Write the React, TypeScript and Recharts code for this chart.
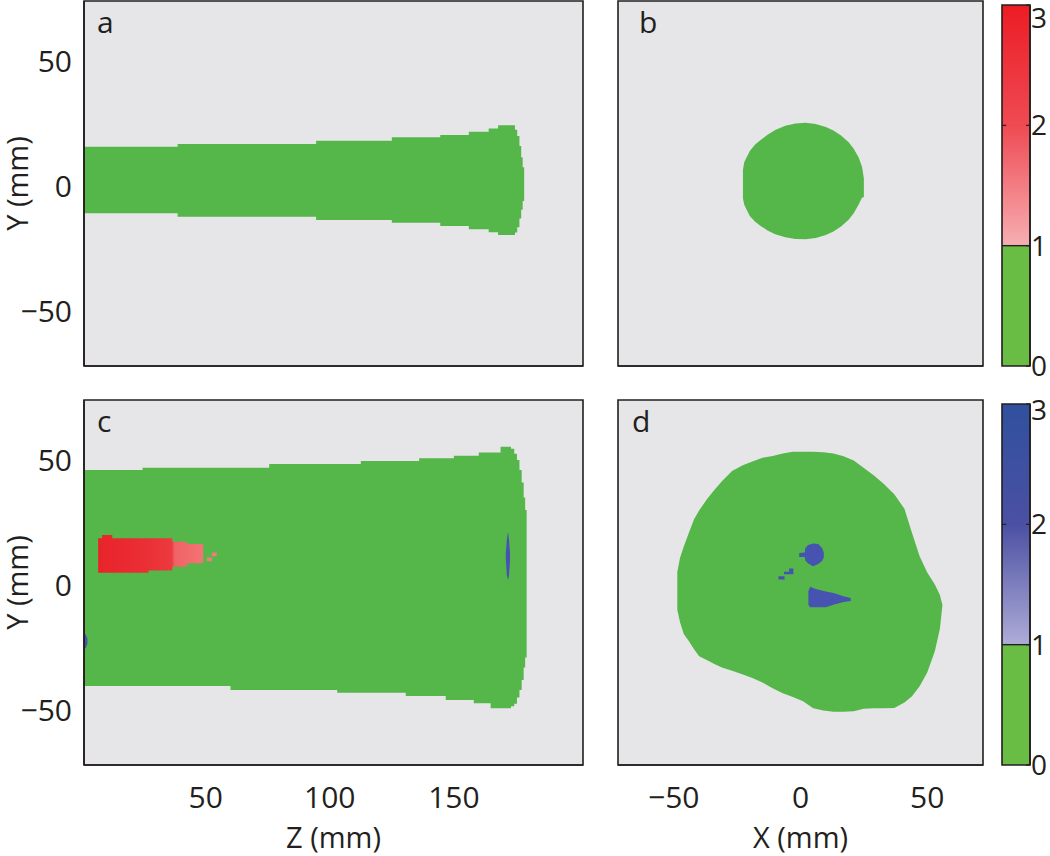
import React from 'react';
import { ComposedChart, Area, XAxis, YAxis, CartesianGrid, ReferenceLine, ReferenceArea } from 'recharts';

// ---- panel a: side view (Z vs Y), stepped outline, before ----
const aZ = [1, 38.7, 94.5, 125, 144.5, 156, 164, 167.8, 174.6, 175.5, 176.4, 177.1, 177.7, 178.3];
const aLo = [-10.9, -12.3, -13.6, -14.7, -16, -17.3, -18.5, -19.6, -18.6, -16.5, -13, -9.5, -6, -6];
const aHi = [15.7, 16.8, 18.1, 19.5, 20.4, 21.7, 23, 24.3, 22.5, 20, 16, 11.5, 7.5, 7.5];

// ---- panel b: cross section (X vs Y), before ----
const bX = [-22.7, -22.2, -21.5, -20, -18, -16, -13, -10, -6, -2, 2, 6, 10, 13, 16, 19, 21, 23, 24.3, 25];
const bLo = [-5, -7.5, -9, -12, -14.2, -15.8, -17.8, -19.3, -20.5, -21.2, -21.3, -20.8, -19.6, -18.2, -16.2, -13.5, -10.9, -7.3, -4.6, -4.5];
const bHi = [6.5, 9.5, 11, 14, 16.5, 18.2, 20.5, 22.4, 24.1, 25, 25.3, 24.8, 23.6, 22.2, 20.2, 17.5, 14.9, 11.3, 7.6, 3];

// ---- panel c: side view, after ----
const cZ = [1, 24.6, 60, 75.6, 103, 112.5, 130.6, 136, 146.7, 150, 158, 160, 164.8, 168.8, 172.2, 173, 174.3, 175.4, 176.4, 177.3, 178.1, 178.7, 179.3];
const cLo = [-40.4, -40.4, -42, -42, -43.1, -43.1, -44.4, -44.4, -46, -46, -47.3, -47.3, -49.3, -49.3, -49.3, -48.5, -47.5, -45, -42, -38, -33, -29, -29];
const cHi = [46, 46.9, 46.9, 48.4, 48.4, 49.6, 49.6, 50.7, 50.7, 51.7, 51.7, 53, 53, 55.3, 55.3, 54.5, 52.5, 50, 46, 41, 35, 30, 30];

const redZ = [6.7, 8.3, 12.4, 27, 36.6, 42.5, 49];
const redLo = [4.9, 4.9, 4.9, 5.8, 7.3, 8.7, 8.7];
const redHi = [18.7, 20, 18.7, 18.7, 17.3, 16.4, 16.4];
const redSpeckZ = [50.5, 52.5, 54.5];
const redSpeckLo = [9.5, 11.5, 11.5];
const redSpeckHi = [11, 13, 13];

const blueRimZ = [170.9, 171.3, 171.8, 172.2, 172.6];
const blueRimLo = [10.5, 4, 2, 4, 10];
const blueRimHi = [12.5, 18, 21.3, 18, 13];
const blueEdgeZ = [1, 1.8, 2.4];
const blueEdgeLo = [-26, -25, -23.5];
const blueEdgeHi = [-19, -20, -21.5];

// ---- panel d: cross section, after ----
const dX = [-48.6, -47.5, -46, -44, -42, -40, -37, -34, -31, -27, -23, -19, -15, -11, -7, -3, 1, 5, 9, 13, 17, 21, 25, 29, 33, 37, 41, 44, 47, 50, 53, 55, 56];
const dLo = [-10, -15, -19.7, -22.5, -25.7, -28.5, -30, -31.6, -33, -34.3, -35.7, -37.2, -39, -41.3, -43.3, -44.8, -46.5, -49.3, -50.2, -50.7, -50.7, -50.5, -49.5, -49.3, -49.3, -49.2, -47, -44.5, -40.5, -35, -26.5, -17.5, -8];
const dHi = [5.3, 11, 15.5, 21, 26.3, 29.8, 34.2, 38, 41.5, 45.6, 47.8, 49.4, 50.9, 51.6, 52.6, 53.3, 53.3, 53.3, 53.1, 52.6, 51.5, 49.8, 46.8, 43.8, 40.3, 36.3, 30.5, 20.8, 11.5, 5, 0.2, -4, -8];

const dBlob1X = [-0.5, 1.7, 1.9, 3, 5, 7, 8.5, 9.2];
const dBlob1Lo = [11.2, 11.2, 9.8, 8.6, 7.5, 8.4, 9.6, 11];
const dBlob1Hi = [12.8, 13, 14.8, 16, 16.6, 16.4, 14.8, 13];
const dBlob2X = [3.1, 3.8, 6, 10, 13, 17, 19.8];
const dBlob2Lo = [-7.9, -8.9, -8.9, -8.9, -7.9, -6.8, -6.4];
const dBlob2Hi = [-2.5, -0.7, -1.6, -2.6, -3.2, -4.5, -5.2];
const dSpeck1X = [-8.7, -6.3];
const dSpeck1Lo = [2.2, 2.2];
const dSpeck1Hi = [3.5, 3.5];
const dSpeck2X = [-6.5, -4.5, -2.8];
const dSpeck2Lo = [4.3, 4.3, 5];
const dSpeck2Hi = [5.3, 6.6, 6];

// ---- axes ----
const zDomain: [number, number] = [1, 202];
const xyDomain: [number, number] = [-72, 72];
const yDomain: [number, number] = [-72, 74];
const zTicks = [50, 100, 150];
const xTicks = [-50, 0, 50];
const yTicks = [-50, 0, 50];

// colorbar
const cbX = [0, 1];
const cbGreen = [0, 1];
const cbScale = [1, 3];
const cbTicks = [0, 1, 2, 3];

const GREEN = '#55b74a';
const CB_GREEN = '#69bd45';
const GRAY = '#e6e6e8';
const INK = '#231f20';
const BLUE = '#4653b0';
const FONT = 'Open Sans';
const PLOT_H = 365;

type Pt = { x: number; r: number[] };
const zip = (xs: number[], lo: number[], hi: number[]): Pt[] => xs.map((x, i) => ({ x, r: [lo[i], hi[i]] }));

interface Band { id: string; data: Pt[]; fill: string; curve: 'linear' | 'stepAfter' }

interface PanelProps {
  left: number;
  top: number;
  plotW: number;
  yAxisW: number;
  xAxisH: number;
  xDomain: [number, number];
  xTicks?: number[];
  yTicks?: number[];
  xLabel?: string;
  yLabel?: string;
  bands: Band[];
}

const minus = (v: number) => String(v).replace('-', '\u2212');
const tickText = { fill: INK, fontSize: 30, fontFamily: FONT };
const edge = { stroke: INK, strokeWidth: 1.6 };

function Panel(p: PanelProps) {
  const ml = p.yAxisW ? 0 : 2;
  const width = ml + p.yAxisW + p.plotW + 2;
  return (
    <div style={{ position: 'absolute', left: p.left, top: p.top }}>
      <ComposedChart width={width} height={1 + PLOT_H + p.xAxisH} margin={{ top: 1, right: 2, bottom: 0, left: ml }}>
        <defs>
          <linearGradient id="redFill" x1="0" y1="0" x2="1" y2="0">
            <stop offset="0%" stopColor="#e8242a" />
            <stop offset="45%" stopColor="#ea2f35" />
            <stop offset="70%" stopColor="#ec3a3f" />
            <stop offset="73%" stopColor="#f06266" />
            <stop offset="100%" stopColor="#f37474" />
          </linearGradient>
        </defs>
        <CartesianGrid fill={GRAY} horizontal={false} vertical={false} stroke="none" />
        <XAxis
          type="number"
          dataKey="x"
          domain={p.xDomain}
          allowDataOverflow
          ticks={p.xTicks ?? []}
          tick={p.xTicks ? tickText : false}
          tickFormatter={minus}
          tickLine={false}
          tickSize={0}
          tickMargin={22}
          height={p.xAxisH}
          axisLine={edge}
          label={p.xLabel ? { value: p.xLabel, position: 'insideBottom', offset: 8, fill: INK, fontSize: 29, fontFamily: FONT } : undefined}
        />
        <YAxis
          type="number"
          domain={yDomain}
          allowDataOverflow
          ticks={p.yTicks ?? []}
          tick={p.yTicks ? tickText : false}
          tickFormatter={minus}
          tickLine={false}
          tickSize={0}
          tickMargin={12}
          width={p.yAxisW}
          axisLine={edge}
          label={p.yLabel ? { value: p.yLabel, angle: -90, position: 'insideLeft', offset: 18, fill: INK, fontSize: 29, fontFamily: FONT, style: { textAnchor: 'middle' } } : undefined}
        />
        {p.bands.map((b) => (
          <Area
            key={b.id}
            data={b.data}
            dataKey="r"
            type={b.curve}
            fill={b.fill}
            fillOpacity={1}
            stroke="none"
            dot={false}
            activeDot={false}
            isAnimationActive={false}
          />
        ))}
        <ReferenceArea
          x1={p.xDomain[0]}
          x2={p.xDomain[1]}
          y1={yDomain[0]}
          y2={yDomain[1]}
          fill="none"
          fillOpacity={0}
          stroke={INK}
          strokeWidth={1.6}
          ifOverflow="visible"
        />
      </ComposedChart>
    </div>
  );
}

interface ColorBarProps { top: number; gradId: string; stops: string[]; topLabelShift: number }

function ColorBar({ top, gradId, stops, topLabelShift }: ColorBarProps) {
  const data = cbX.map((x) => ({ x, g: cbGreen, h: cbScale }));
  const renderTick = (props: any) => {
    const { x, y, payload } = props;
    const shift = payload.value === 3 ? topLabelShift : 0;
    return (
      <text x={x} y={y + shift} dy="0.36em" textAnchor="start" fill={INK} fontSize={28} fontFamily={FONT}>
        {payload.value}
      </text>
    );
  };
  return (
    <div style={{ position: 'absolute', left: 1000, top }}>
      <ComposedChart width={50} height={5 + 361 + 16} data={data} margin={{ top: 5, right: 0, bottom: 16, left: 2 }}>
        <defs>
          <linearGradient id={gradId} x1="0" y1="0" x2="0" y2="1">
            <stop offset="0%" stopColor={stops[0]} />
            <stop offset="50%" stopColor={stops[1]} />
            <stop offset="100%" stopColor={stops[2]} />
          </linearGradient>
        </defs>
        <XAxis type="number" dataKey="x" domain={[0, 1]} hide />
        <YAxis
          orientation="right"
          type="number"
          domain={[0, 3]}
          ticks={cbTicks}
          width={20}
          tickSize={-4}
          tickMargin={5}
          tickLine={{ stroke: INK, strokeWidth: 1.2 }}
          tick={renderTick}
          axisLine={edge}
        />
        <Area dataKey="g" type="linear" fill={CB_GREEN} fillOpacity={1} stroke="none" dot={false} activeDot={false} isAnimationActive={false} />
        <Area dataKey="h" type="linear" fill={`url(#${gradId})`} fillOpacity={1} stroke="none" dot={false} activeDot={false} isAnimationActive={false} />
        <ReferenceLine y={1} stroke={INK} strokeWidth={1.4} />
        <ReferenceLine segment={[{ x: 0, y: 2 }, { x: 0.15, y: 2 }]} stroke={INK} strokeWidth={1.2} />
        <ReferenceArea x1={0} x2={1} y1={0} y2={3} fill="none" fillOpacity={0} stroke={INK} strokeWidth={1.6} ifOverflow="visible" />
      </ComposedChart>
    </div>
  );
}

export default function App() {
  const letters = [
    { t: 'a', x: 97, y: 33 },
    { t: 'b', x: 639, y: 33 },
    { t: 'c', x: 97, y: 432 },
    { t: 'd', x: 632, y: 432 },
  ];
  return (
    <div style={{ position: 'absolute', left: 0, top: 0, width: 1050, height: 856, background: '#fff', overflow: 'hidden' }}>
      <Panel
        left={0}
        top={0}
        plotW={499}
        yAxisW={84}
        xAxisH={8}
        xDomain={zDomain}
        yTicks={yTicks}
        yLabel="Y (mm)"
        bands={[{ id: 'a', data: zip(aZ, aLo, aHi), fill: GREEN, curve: 'stepAfter' }]}
      />
      <Panel
        left={616}
        top={0}
        plotW={365}
        yAxisW={0}
        xAxisH={8}
        xDomain={xyDomain}
        bands={[{ id: 'b', data: zip(bX, bLo, bHi), fill: GREEN, curve: 'linear' }]}
      />
      <Panel
        left={0}
        top={399}
        plotW={499}
        yAxisW={84}
        xAxisH={91}
        xDomain={zDomain}
        xTicks={zTicks}
        yTicks={yTicks}
        xLabel="Z (mm)"
        yLabel="Y (mm)"
        bands={[
          { id: 'c', data: zip(cZ, cLo, cHi), fill: GREEN, curve: 'stepAfter' },
          { id: 'red', data: zip(redZ, redLo, redHi), fill: 'url(#redFill)', curve: 'stepAfter' },
          { id: 'redSpeck', data: zip(redSpeckZ, redSpeckLo, redSpeckHi), fill: '#f27c7d', curve: 'stepAfter' },
          { id: 'blueRim', data: zip(blueRimZ, blueRimLo, blueRimHi), fill: BLUE, curve: 'linear' },
          { id: 'blueEdge', data: zip(blueEdgeZ, blueEdgeLo, blueEdgeHi), fill: BLUE, curve: 'linear' },
        ]}
      />
      <Panel
        left={616}
        top={399}
        plotW={365}
        yAxisW={0}
        xAxisH={91}
        xDomain={xyDomain}
        xTicks={xTicks}
        xLabel="X (mm)"
        bands={[
          { id: 'd', data: zip(dX, dLo, dHi), fill: GREEN, curve: 'linear' },
          { id: 'd1', data: zip(dBlob1X, dBlob1Lo, dBlob1Hi), fill: BLUE, curve: 'linear' },
          { id: 'd2', data: zip(dBlob2X, dBlob2Lo, dBlob2Hi), fill: BLUE, curve: 'linear' },
          { id: 'd3', data: zip(dSpeck1X, dSpeck1Lo, dSpeck1Hi), fill: BLUE, curve: 'stepAfter' },
          { id: 'd4', data: zip(dSpeck2X, dSpeck2Lo, dSpeck2Hi), fill: BLUE, curve: 'stepAfter' },
        ]}
      />
      <ColorBar top={0} gradId="hotBar" stops={['#ec1c24', '#ef4a53', '#f6afb2']} topLabelShift={9} />
      <ColorBar top={399} gradId="coldBar" stops={['#30509f', '#4b50a3', '#aeacd8']} topLabelShift={2} />
      <svg width={1050} height={856} style={{ position: 'absolute', left: 0, top: 0, pointerEvents: 'none' }}>
        {letters.map((l) => (
          <text key={l.t} x={l.x} y={l.y} fill={INK} fontSize={30} fontFamily={FONT}>
            {l.t}
          </text>
        ))}
      </svg>
    </div>
  );
}
